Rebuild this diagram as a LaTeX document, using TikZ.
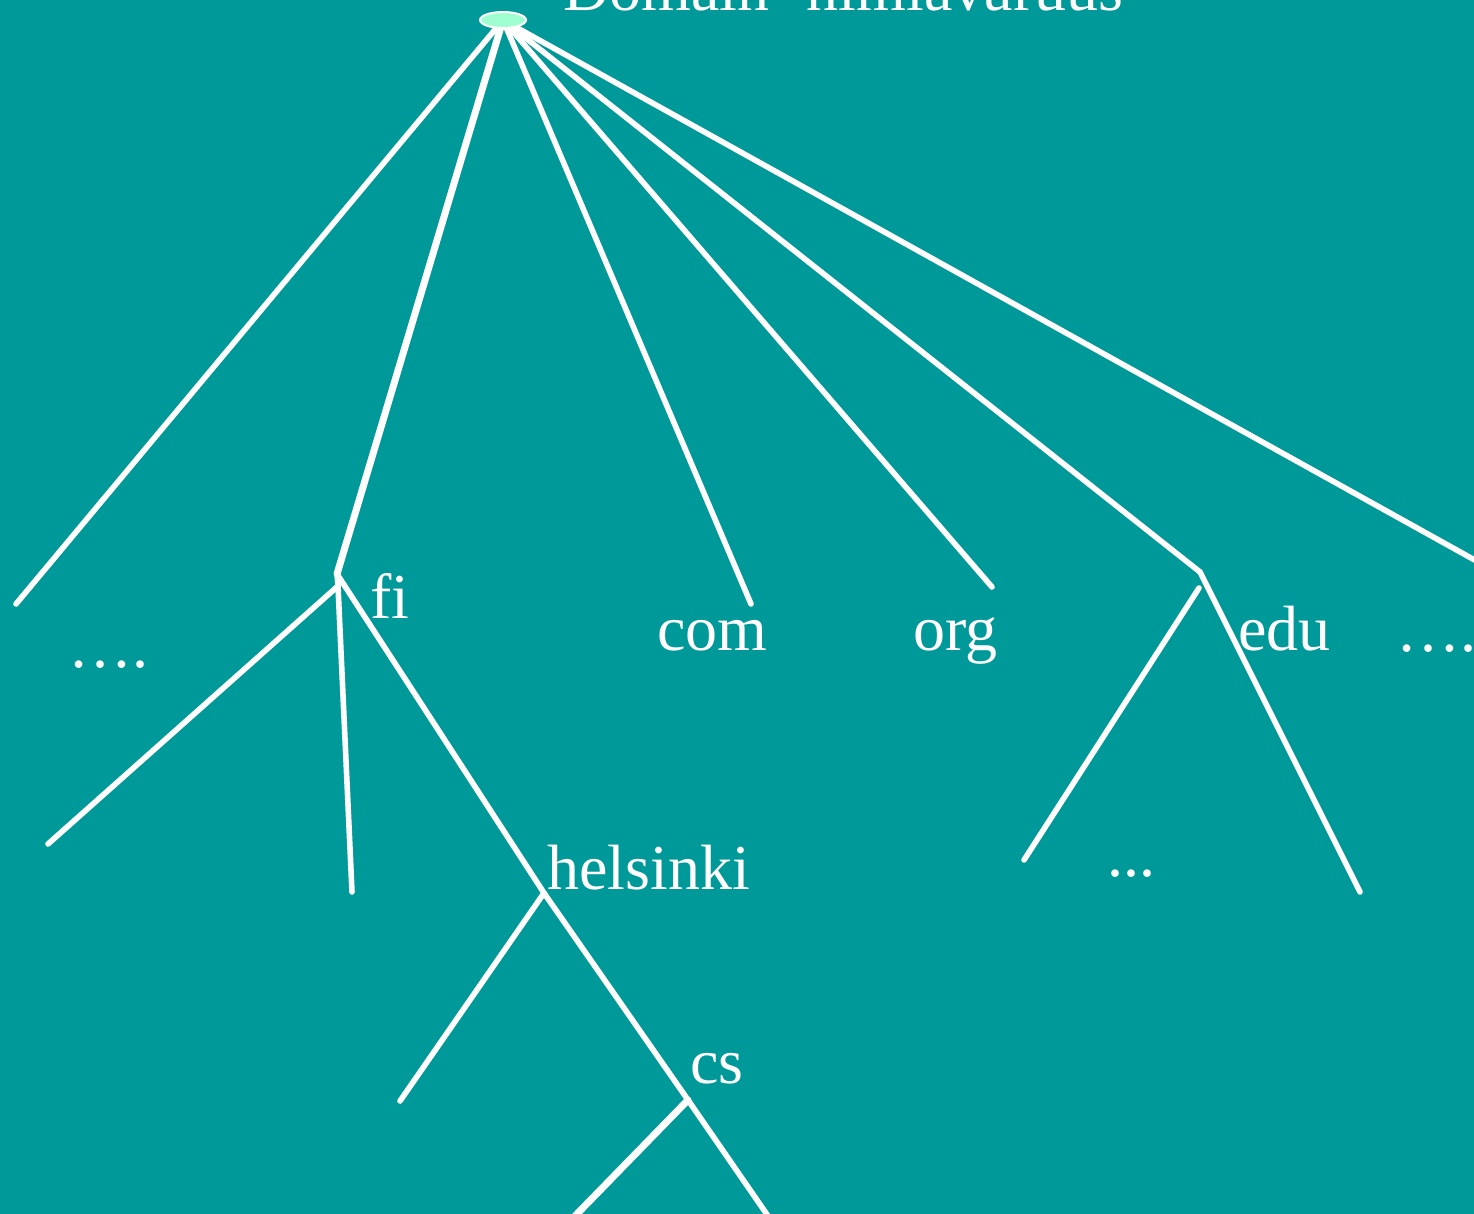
\documentclass[tikz,border=0pt]{standalone}
\usepackage{fontspec}
\setmainfont{Liberation Serif}
\usetikzlibrary{shapes.geometric}
\begin{document}
\begin{tikzpicture}[x=0.5pt,y=-0.5pt,
  edge/.style={draw=white,line width=2.8pt,line cap=round},
  thick edge/.style={edge,line width=3.5pt},
  lbl/.style={text=white,inner sep=0pt,anchor=base west,font=\fontsize{32}{36}\selectfont}]
\definecolor{bg}{HTML}{009999}
\definecolor{rootfill}{HTML}{A0FFD0}
\fill[bg] (0,0) rectangle (1474,1214);
\useasboundingbox (0,0) rectangle (1474,1214);
% junction coordinates
\coordinate (r) at (503,20);
\coordinate (l1) at (16,604);
\coordinate (fi) at (337,574);
\coordinate (fib) at (338,586);
\coordinate (com) at (751,604);
\coordinate (org) at (992,587);
\coordinate (edu) at (1200,572);
\coordinate (edub) at (1199,588);
\coordinate (r6) at (1480,563);
\coordinate (fa) at (48,844);
\coordinate (fb) at (352,892);
\coordinate (hel) at (544,893);
\coordinate (ha) at (400,1101);
\coordinate (cs) at (688,1100);
\coordinate (ca) at (575,1216);
\coordinate (cb) at (768,1216);
\coordinate (ea) at (1024,860);
\coordinate (eb) at (1360,892);
% edges from root
\draw[edge] (r) -- (l1);
\draw[thick edge] (r) -- (fi);
\draw[edge] (r) -- (com);
\draw[edge] (r) -- (org);
\draw[edge] (r) -- (edu);
\draw[edge] (r) -- (r6);
% fi subtree
\draw[edge] (fi) -- (fib);
\draw[edge] (fib) -- (fa);
\draw[edge] (fib) -- (fb);
\draw[edge] (fi) -- (hel);
\draw[edge] (hel) -- (ha);
\draw[edge] (hel) -- (cs);
\draw[thick edge] (cs) -- (ca);
\draw[edge] (cs) -- (cb);
% edu subtree
\draw[edge] (edub) -- (ea);
\draw[edge] (edu) -- (eb);
% root
\node[ellipse,draw=white,line width=1pt,fill=rootfill,minimum width=23pt,minimum height=8pt,inner sep=0pt] (root) at (r) {};
% labels
\node[lbl] (title) at (563,11) {Domain -nimiavaruus};
\node[lbl] (tfi) at (370,618) {fi};
\node[lbl] (tcom) at (657,650) {com};
\node[lbl] (torg) at (913,650) {org};
\node[lbl] (tedu) at (1238,650) {edu};
\node[lbl] (tdl) at (68,667) {….};
\node[lbl] (tdr) at (1396,651) {….};
\node[lbl] (tdm) at (1107,876) {...};
\node[lbl] (thel) at (547,889) {helsinki};
\node[lbl] (tcs) at (690,1083) {cs};
\end{tikzpicture}
\end{document}
